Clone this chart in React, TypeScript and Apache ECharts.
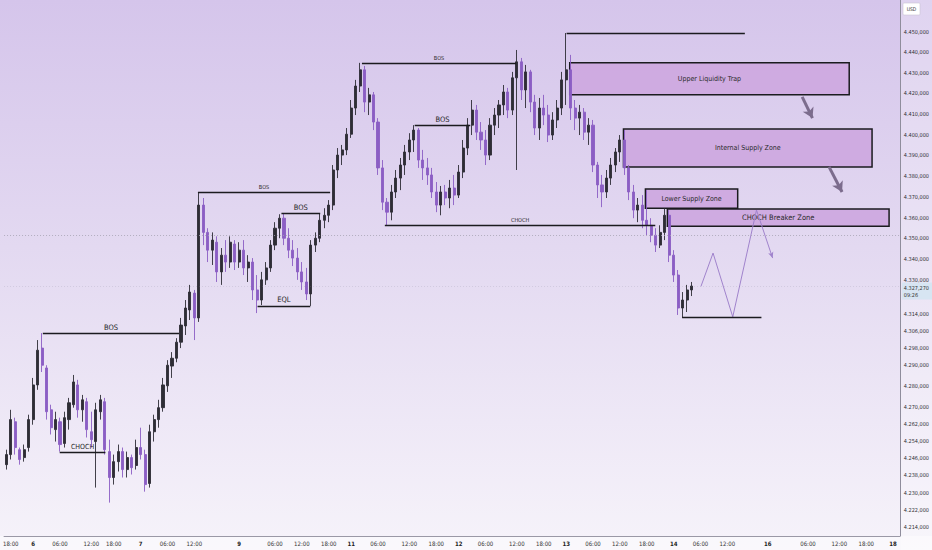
import React, { useEffect, useRef } from "react";
import * as echarts from "echarts";

const FONT = "'Liberation Sans Narrow', 'DejaVu Sans Condensed', 'Liberation Sans', Arial, sans-serif";
const SLOT_COUNT = 200;

// [open, close, low, high]
const candles: number[][] = [
  [4243.0, 4247.7, 4240.7, 4250.0], [4247.7, 4264.1, 4245.4, 4268.7], [4263.1, 4251.0, 4247.7, 4265.0], [4250.0, 4245.4, 4243.0, 4251.0],
  [4246.3, 4250.0, 4244.4, 4252.4], [4251.0, 4264.1, 4249.1, 4266.4], [4264.1, 4280.4, 4261.7, 4283.7], [4280.4, 4296.8, 4278.1, 4301.6],
  [4297.8, 4289.7, 4286.5, 4304.9], [4288.4, 4267.8, 4264.1, 4289.7], [4268.7, 4260.3, 4257.1, 4271.1], [4259.4, 4264.1, 4253.8, 4267.8],
  [4263.1, 4252.4, 4249.1, 4265.0], [4252.9, 4265.0, 4251.0, 4267.8], [4264.1, 4272.0, 4259.4, 4274.3], [4271.1, 4281.8, 4269.7, 4285.1],
  [4280.4, 4268.7, 4265.0, 4282.8], [4268.7, 4273.4, 4263.1, 4275.7], [4272.5, 4259.4, 4255.7, 4274.3], [4258.4, 4254.7, 4251.0, 4267.8],
  [4253.8, 4268.7, 4232.3, 4272.0], [4267.8, 4273.4, 4264.1, 4275.7], [4272.5, 4250.0, 4247.7, 4274.3], [4249.1, 4237.0, 4225.3, 4254.7],
  [4237.0, 4244.4, 4233.7, 4247.7], [4244.4, 4249.1, 4239.8, 4252.4], [4249.1, 4240.7, 4237.0, 4251.0], [4240.7, 4246.3, 4237.0, 4249.1],
  [4246.3, 4241.6, 4238.4, 4247.7], [4242.6, 4251.0, 4240.7, 4254.7], [4251.0, 4247.7, 4245.4, 4260.3], [4247.7, 4233.7, 4230.4, 4250.0],
  [4234.2, 4258.4, 4232.3, 4261.7], [4258.4, 4264.1, 4253.8, 4266.4], [4264.1, 4269.7, 4260.3, 4273.4], [4269.7, 4280.4, 4267.8, 4283.7],
  [4280.0, 4289.7, 4277.1, 4292.1], [4289.3, 4293.0, 4283.7, 4295.9], [4293.0, 4300.6, 4291.1, 4302.5], [4300.6, 4308.7, 4297.8, 4312.1],
  [4308.3, 4316.8, 4304.0, 4320.6], [4315.9, 4324.4, 4311.1, 4327.8], [4323.9, 4312.1, 4301.6, 4325.4], [4312.1, 4366.0, 4310.2, 4371.8],
  [4366.0, 4352.9, 4346.8, 4369.4], [4352.9, 4344.4, 4338.7, 4354.9], [4344.4, 4349.2, 4337.3, 4352.9], [4348.2, 4334.0, 4329.2, 4351.0],
  [4334.0, 4342.0, 4327.8, 4345.4], [4342.0, 4338.7, 4334.0, 4349.2], [4338.7, 4348.2, 4335.9, 4351.0], [4347.3, 4338.7, 4334.9, 4349.2],
  [4338.7, 4344.4, 4335.9, 4348.2], [4344.4, 4335.9, 4332.5, 4349.2], [4335.9, 4338.7, 4329.2, 4342.0], [4338.7, 4325.4, 4320.6, 4340.6],
  [4325.4, 4320.6, 4314.4, 4332.5], [4320.6, 4330.2, 4318.2, 4334.0], [4330.2, 4335.9, 4327.8, 4338.7], [4335.9, 4346.8, 4334.0, 4349.2],
  [4346.8, 4354.9, 4344.4, 4357.8], [4354.9, 4359.7, 4350.1, 4361.6], [4359.7, 4350.1, 4346.8, 4362.1], [4350.1, 4344.4, 4340.6, 4354.9],
  [4344.4, 4340.6, 4336.8, 4349.2], [4340.6, 4334.0, 4330.2, 4345.4], [4334.0, 4329.2, 4325.4, 4338.7], [4329.2, 4323.5, 4320.6, 4335.9],
  [4323.5, 4346.8, 4317.8, 4349.2], [4346.8, 4350.1, 4343.5, 4352.9], [4350.1, 4358.7, 4348.2, 4362.1], [4358.7, 4361.1, 4354.9, 4364.5],
  [4361.1, 4366.0, 4357.8, 4368.4], [4366.0, 4382.9, 4363.6, 4385.3], [4382.9, 4390.1, 4379.0, 4393.5], [4390.1, 4392.6, 4385.3, 4395.0],
  [4392.6, 4400.2, 4390.1, 4403.2], [4400.2, 4412.9, 4398.4, 4416.8], [4412.9, 4423.6, 4409.5, 4426.6], [4423.6, 4431.5, 4420.7, 4434.9],
  [4431.5, 4415.8, 4410.9, 4433.4], [4415.8, 4419.3, 4409.5, 4422.7], [4419.3, 4406.1, 4402.2, 4420.7], [4406.1, 4383.9, 4380.5, 4408.0],
  [4383.9, 4367.4, 4363.6, 4387.7], [4367.4, 4362.6, 4356.3, 4369.4], [4362.6, 4372.3, 4358.7, 4375.7], [4372.3, 4379.0, 4369.4, 4382.9],
  [4379.0, 4385.3, 4373.2, 4388.7], [4385.3, 4391.6, 4380.5, 4395.0], [4391.6, 4397.4, 4387.7, 4400.7], [4397.4, 4402.2, 4391.6, 4404.6],
  [4402.2, 4387.7, 4383.9, 4403.2], [4387.7, 4383.9, 4378.1, 4392.6], [4383.9, 4380.5, 4375.7, 4388.7], [4380.5, 4372.3, 4369.4, 4383.9],
  [4372.3, 4366.0, 4362.6, 4377.1], [4366.0, 4372.3, 4361.1, 4375.2], [4372.3, 4369.4, 4366.0, 4375.7], [4369.4, 4374.2, 4364.5, 4378.1],
  [4374.2, 4370.8, 4366.0, 4380.5], [4370.8, 4381.9, 4369.4, 4385.3], [4381.9, 4393.5, 4379.0, 4397.4], [4393.5, 4404.6, 4390.1, 4408.0],
  [4404.6, 4411.9, 4399.8, 4416.8], [4411.9, 4401.2, 4397.4, 4414.4], [4401.2, 4397.4, 4392.6, 4406.1], [4397.4, 4390.1, 4385.3, 4402.2],
  [4390.1, 4404.6, 4387.7, 4408.0], [4404.6, 4409.5, 4399.8, 4412.9], [4409.5, 4414.4, 4403.2, 4416.8], [4414.4, 4420.7, 4409.5, 4424.1],
  [4420.7, 4411.9, 4408.0, 4422.7], [4411.9, 4427.6, 4409.5, 4430.5], [4427.6, 4435.4, 4382.9, 4441.2], [4435.4, 4421.7, 4416.8, 4437.3],
  [4421.7, 4430.5, 4412.9, 4433.9], [4430.5, 4415.8, 4410.9, 4431.5], [4415.8, 4403.2, 4399.8, 4419.3], [4403.2, 4412.9, 4397.4, 4417.8],
  [4412.9, 4409.5, 4404.6, 4419.3], [4409.5, 4399.8, 4396.4, 4414.4], [4399.8, 4407.1, 4397.4, 4410.9], [4407.1, 4412.9, 4403.2, 4416.8],
  [4412.9, 4426.6, 4409.5, 4430.5], [4426.6, 4431.5, 4414.4, 4449.5], [4431.5, 4412.9, 4407.1, 4438.8], [4412.9, 4408.0, 4402.2, 4416.8],
  [4408.0, 4410.9, 4399.8, 4414.4], [4410.9, 4401.2, 4397.4, 4412.9], [4401.2, 4404.6, 4395.0, 4408.0], [4404.6, 4385.3, 4381.9, 4407.1],
  [4385.3, 4375.7, 4369.4, 4386.8], [4375.7, 4372.3, 4365.0, 4380.5], [4372.3, 4379.0, 4369.4, 4382.9], [4379.0, 4385.3, 4375.7, 4388.7],
  [4385.3, 4391.6, 4381.9, 4393.5], [4391.6, 4397.4, 4386.8, 4399.8], [4397.4, 4383.9, 4380.5, 4402.2], [4383.9, 4372.3, 4368.4, 4385.3],
  [4372.3, 4363.6, 4359.7, 4375.7], [4363.6, 4366.0, 4357.8, 4369.4], [4366.0, 4358.7, 4354.9, 4370.8], [4358.7, 4356.3, 4351.5, 4373.2],
  [4356.3, 4351.5, 4348.2, 4359.7], [4351.5, 4346.8, 4343.5, 4354.9], [4346.8, 4352.9, 4345.4, 4356.3], [4352.9, 4361.1, 4349.2, 4364.5],
  [4361.1, 4342.0, 4338.7, 4363.6], [4342.0, 4332.5, 4329.2, 4344.4], [4332.5, 4316.8, 4313.5, 4334.9], [4316.8, 4320.6, 4312.1, 4324.4],
  [4320.6, 4325.4, 4314.9, 4327.8], [4325.4, 4327.27, 4322.5, 4329.2],
];

const xTickSlots = [1, 6, 12, 19, 24, 30, 36, 42, 52, 60, 66, 72, 77, 83, 90, 96, 101, 107, 114, 120, 125, 131, 137, 143, 149, 155, 161, 170, 179, 186, 192, 198];
const xTickLabels = ["18:00", "6", "06:00", "12:00", "18:00", "7", "06:00", "12:00", "9", "06:00", "12:00", "18:00", "11", "06:00", "12:00", "18:00", "12", "06:00", "12:00", "18:00", "13", "06:00", "12:00", "18:00", "14", "06:00", "12:00", "16", "06:00", "12:00", "18:00", "18"];

const yTickValues = [4450, 4440, 4430, 4420, 4410, 4400, 4390, 4380, 4370, 4360, 4350, 4340, 4330, 4314, 4306, 4298, 4290, 4280, 4270, 4262, 4254, 4246, 4238, 4230, 4222, 4214];

const lastPrice = 4327.27;
const lastPriceText = "4.327,270";
const countdownText = "09:26";
const dottedLevel = 4351.5;

// horizontal structure lines: slot from, slot to, price, label, label size
const levelFrom = [8.16, 11.93, 42.79, 61.43, 56.1, 79.41, 91.18, 84.52, 125.1, 150.9];
const levelTo = [38.57, 22.14, 72.31, 70.09, 67.87, 113.82, 103.6, 144.9, 164.9, 168.6];
const levelPrice = [4304.9, 4248.6, 4372.3, 4362.1, 4317.8, 4434.9, 4404.6, 4356.3, 4449.5, 4312.6];
const levelText = ["BOS", "CHOCH", "BOS", "BOS", "EQL", "BOS", "BOS", "CHOCH", "", ""];
const levelTextSize = [7.5, 7, 5.5, 7.5, 7.5, 5.5, 7.5, 5.5, 6, 6];

// zones
const zoneFrom = [125.8, 137.8, 142.7, 147.6];
const zoneTo = [188.2, 193.3, 163.3, 197.1];
const zoneTop = [4434.9, 4402.7, 4373.7, 4364.1];
const zoneBottom = [4419.3, 4384.4, 4364.5, 4355.8];
const zoneText = ["Upper Liquidity Trap", "Internal Supply Zone", "Lower Supply Zone", "CHOCH Breaker Zone"];
const zoneTextSize = [7, 7, 7, 7.5];

// projected path
const pathSlots = [155.1, 157.8, 162.2, 167.5, 171.1];
const pathPrices = [4327.1, 4343.0, 4312.6, 4363.6, 4340.6];

// push arrows
const arrowFrom = [[177.7, 4418.3], [183.7, 4384.4]];
const arrowTo = [[180.0, 4408.0], [186.6, 4372.3]];

const fmtPrice = (v: number) => {
  const s = Math.round(v);
  return Math.floor(s / 1000) + "." + String(s % 1000).padStart(3, "0") + ",000";
};

export default function App() {
  const ref = useRef<HTMLDivElement>(null);
  useEffect(() => {
    if (!ref.current) return;
    const chart = echarts.init(ref.current, undefined, { renderer: "svg" });
    const categories = Array.from({ length: SLOT_COUNT }, (_, i) => "s" + i);
    const tickMap = new Map<number, string>();
    xTickSlots.forEach((s, k) => tickMap.set(s, xTickLabels[k]));
    const isDay = (t: string) => !t.includes(":");

    const levelData = levelFrom.map((f, k) => [
      {
        coord: [f, levelPrice[k]],
        symbol: "none",
        lineStyle: { color: "#1b1b1f", width: 1.3, type: "solid" },
        label: {
          show: levelText[k] !== "",
          formatter: levelText[k],
          position: "insideMiddleTop",
          distance: 2,
          fontSize: levelTextSize[k],
          color: "#262626",
          fontFamily: FONT,
        },
      },
      { coord: [levelTo[k], levelPrice[k]], symbol: "none" },
    ]);

    const arrowData = arrowFrom.map((a, k) => [
      { coord: a, symbol: "none", lineStyle: { color: "#7c6c8d", width: 3, type: "solid" }, label: { show: false } },
      { coord: arrowTo[k], symbol: "arrow", symbolSize: [9, 10] },
    ]);

    const n = pathSlots.length;
    const pathTail = [
      {
        coord: [pathSlots[n - 2], pathPrices[n - 2]],
        symbol: "none",
        lineStyle: { color: "#a083cc", width: 1, type: "solid" },
        label: { show: false },
      },
      { coord: [pathSlots[n - 1], pathPrices[n - 1]], symbol: "arrow", symbolSize: [4, 6] },
    ];

    const zoneData = zoneFrom.map((f, k) => [
      {
        coord: [f, zoneTop[k]],
        itemStyle: { color: "rgba(205,168,224,0.93)", borderColor: "#1b1b1f", borderWidth: 1.5 },
        label: {
          show: true,
          position: "inside",
          formatter: zoneText[k],
          fontSize: zoneTextSize[k],
          color: "#2a2a2a",
          fontFamily: FONT,
        },
      },
      { coord: [zoneTo[k], zoneBottom[k]] },
    ]);

    chart.setOption({
      animation: false,
      backgroundColor: "transparent",
      textStyle: { fontFamily: FONT },
      grid: { left: 0, right: 31, top: 0, bottom: 14, containLabel: false },
      xAxis: [
        {
          type: "category",
          data: categories,
          boundaryGap: true,
          axisLine: { show: true, onZero: false, lineStyle: { color: "#9a98a6", width: 1 } },
          axisTick: { show: false },
          splitLine: { show: false },
          axisLabel: {
            interval: (i: number) => tickMap.has(i),
            formatter: (_v: string, i: number) => {
              const t = tickMap.get(i);
              if (!t) return "";
              return isDay(t) ? "{b|" + t + "}" : t;
            },
            fontSize: 6,
            color: "#333",
            margin: 4,
            fontFamily: FONT,
            rich: { b: { fontWeight: "bold", fontSize: 6, color: "#222", fontFamily: FONT } },
          },
        },
        {
          type: "value",
          min: -0.5,
          max: SLOT_COUNT - 0.5,
          show: false,
          axisLine: { show: false, onZero: false },
          splitLine: { show: false },
        },
      ],
      yAxis: {
        type: "log",
        logBase: 10,
        position: "right",
        min: 4209.8,
        max: 4465.7,
        axisLine: { show: true, onZero: false, lineStyle: { color: "#8f8d9c", width: 1 } },
        axisTick: { show: false },
        splitLine: { show: false },
        axisLabel: {
          customValues: yTickValues,
          formatter: (v: number) => fmtPrice(v),
          fontSize: 5.5,
          color: "#2f2f33",
          margin: 4,
          fontFamily: FONT,
        },
      },
      graphic: [
        { type: "rect", shape: { x: 901, y: 0, width: 31, height: 550 }, style: { fill: "rgba(255,255,255,0.25)" }, silent: true, z: -1 },
        { type: "rect", shape: { x: 0, y: 536, width: 932, height: 14 }, style: { fill: "rgba(255,255,255,0.45)" }, silent: true, z: -1 },
        { type: "rect", shape: { x: 903, y: 3, width: 17, height: 12, r: 1 }, style: { fill: "#ffffff", stroke: "#c9c4d4", lineWidth: 0.6 }, silent: true },
        { type: "text", x: 911.5, y: 9, style: { text: "USD", fontSize: 5, fill: "#333", align: "center", verticalAlign: "middle", fontFamily: FONT }, silent: true },
      ],
      series: [
        {
          type: "line",
          xAxisIndex: 1,
          yAxisIndex: 0,
          data: [],
          z: 1,
          silent: true,
          markArea: { silent: true, data: zoneData },
        },
        {
          type: "candlestick",
          xAxisIndex: 0,
          yAxisIndex: 0,
          data: candles,
          barWidth: 2.6,
          z: 2,
          itemStyle: {
            color: "#2e2d35",
            color0: "#8b5ec4",
            borderColor: "#2e2d35",
            borderColor0: "#8b5ec4",
            borderWidth: 0.9,
          },
          markLine: {
            silent: true,
            symbol: ["none", "none"],
            data: [
              { yAxis: dottedLevel, lineStyle: { color: "#a7a3b2", width: 0.8, type: [1, 2] }, label: { show: false } },
              {
                yAxis: lastPrice,
                lineStyle: { color: "rgba(130,130,150,0.25)", width: 0.8, type: [1, 2] },
                label: {
                  show: true,
                  position: "end",
                  distance: 2,
                  offset: [0, 5],
                  formatter: lastPriceText + "\n" + countdownText,
                  backgroundColor: "#d7e5f2",
                  padding: [1, 3, 2, 2],
                  fontSize: 5.5,
                  lineHeight: 7,
                  color: "#333",
                  fontFamily: FONT,
                },
              },
            ],
          },
        },
        {
          type: "line",
          xAxisIndex: 1,
          yAxisIndex: 0,
          data: pathSlots.slice(0, n - 1).map((s, k) => [s, pathPrices[k]]),
          showSymbol: false,
          symbol: "none",
          lineStyle: { color: "#a083cc", width: 1 },
          z: 3,
          silent: true,
          markLine: {
            silent: true,
            symbol: ["none", "none"],
            data: [...levelData, ...arrowData, pathTail],
          },
        },
      ],
    });
    return () => chart.dispose();
  }, []);

  return (
    <div
      style={{
        position: "fixed",
        left: 0,
        top: 0,
        width: 932,
        height: 550,
        background: "linear-gradient(to bottom, #d5c5eb 0%, #e3d9f1 45%, #f6f3fa 100%)",
      }}
    >
      <div ref={ref} style={{ width: 932, height: 550 }} />
    </div>
  );
}
